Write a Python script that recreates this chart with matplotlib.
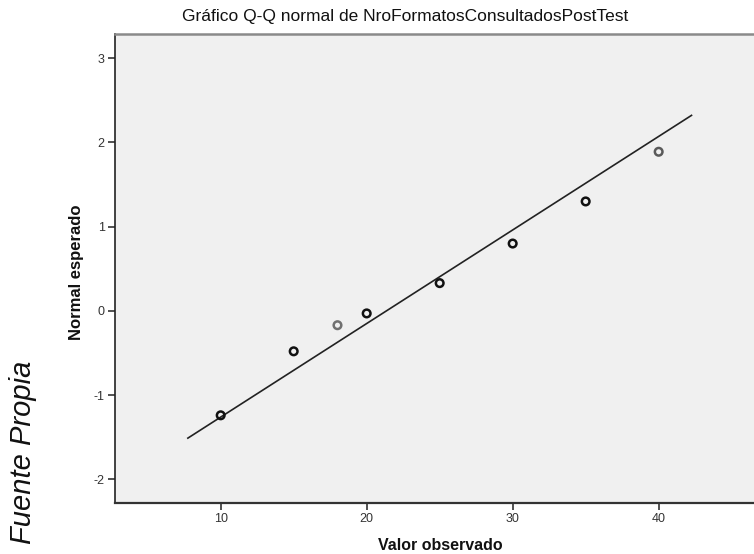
import matplotlib
matplotlib.use("Agg")
import matplotlib.pyplot as plt
import numpy as np

# Valores observados y normales esperados (Q-Q normal)
valor_observado = [10, 15, 18, 20, 25, 30, 35, 40]
normal_esperado = [-1.24, -0.48, -0.17, -0.03, 0.33, 0.80, 1.30, 1.89]

# Recta de referencia: z = (x - media) / desviacion
media = 21.35
desviacion = 9.0
recta_x = [7.75, 42.25]

x_ticks = [10, 20, 30, 40]
y_ticks = [-2, -1, 0, 1, 2, 3]

titulo = "Gráfico Q-Q normal de NroFormatosConsultadosPostTest"
etiqueta_x = "Valor observado"
etiqueta_y = "Normal esperado"
fuente = "Fuente Propia"

plt.rcParams["font.family"] = ["Liberation Sans", "DejaVu Sans"]
plt.rcParams["axes.unicode_minus"] = False

W, H = 754, 554
fig = plt.figure(figsize=(W / 100, H / 100), dpi=100)
fig.patch.set_facecolor("white")

left, right, top, bottom = 115, 754, 34.3, 502.7
ax = fig.add_axes([left / W, 1 - bottom / H, (right - left) / W, (bottom - top) / H])
ax.set_facecolor("#f0f0f0")
ax.set_xlim(2.76, 46.53)
ax.set_ylim(-2.278, 3.285)

# Recta teórica
rx = np.array(recta_x)
ax.plot(rx, (rx - media) / desviacion, color="#222222", lw=1.2, zorder=2)

# Puntos: los valores con varios casos se ven más oscuros
bordes = ["#111111", "#111111", "#707070", "#111111", "#111111", "#111111", "#111111", "#5a5a5a"]
ax.scatter(valor_observado, normal_esperado, s=30, facecolors="none",
           edgecolors=bordes, linewidths=1.8, zorder=3)

ax.set_xticks(x_ticks)
ax.set_yticks(y_ticks)
ax.tick_params(axis="both", direction="out", length=5, width=1.2, color="#333333",
               labelsize=9, labelcolor="#333333", pad=2.5)

ax.spines["left"].set_color("#222222")
ax.spines["left"].set_linewidth(1.2)
ax.spines["bottom"].set_color("#333333")
ax.spines["bottom"].set_linewidth(1.6)
ax.spines["top"].set_color("#8a8a8a")
ax.spines["top"].set_linewidth(1.8)
ax.spines["right"].set_visible(False)

fig.text(405 / W, 1 - 16 / H, titulo, ha="center", va="center", fontsize=12.5,
         color="#111111")
fig.text(440 / W, 1 - 545 / H, etiqueta_x, ha="center", va="center", fontsize=11.5,
         fontweight="bold", color="#111111")
fig.text(76 / W, 1 - 272 / H, etiqueta_y, ha="center", va="center", fontsize=12,
         fontweight="bold", color="#111111", rotation=90)
fig.text(23 / W, 1 - 452 / H, fuente, ha="center", va="center", fontsize=21,
         style="italic", color="#111111", rotation=90)

fig.savefig("out.png", dpi=100)
